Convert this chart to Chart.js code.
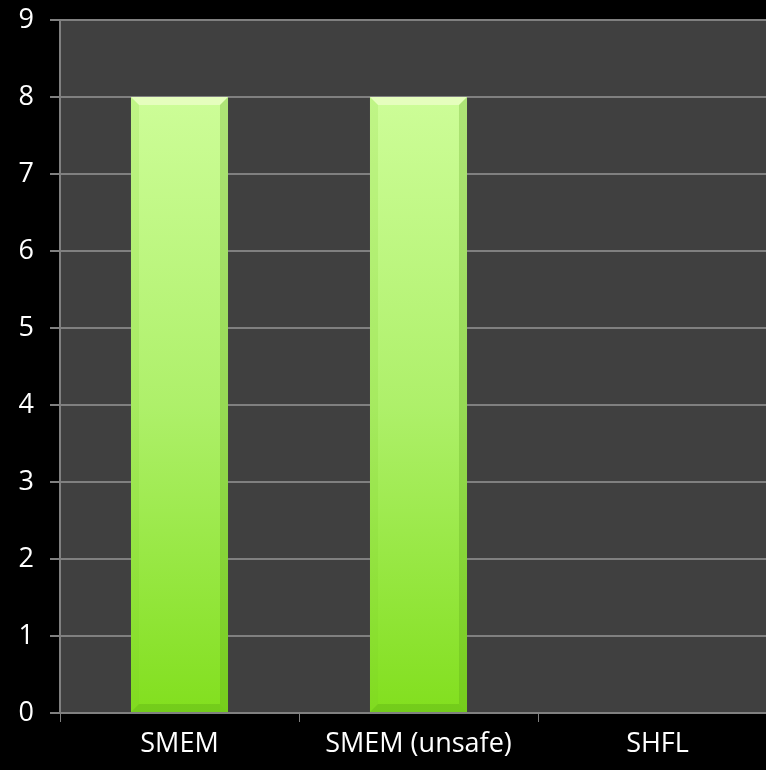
<!DOCTYPE html>
<html>
<head>
<meta charset="utf-8">
<script src="https://cdn.jsdelivr.net/npm/chart.js@4/dist/chart.umd.min.js"></script>
<style>
  html, body { margin: 0; padding: 0; background: #000; overflow: hidden; }
  .chart-container { position: relative; width: 780px; height: 770px; }
</style>
</head>
<body>
<div class="chart-container">
  <canvas id="smemChart"></canvas>
</div>
<script>
const categories = ['SMEM', 'SMEM (unsafe)', 'SHFL'];
const values = [8, 8, 0];
const yTicks = [0, 1, 2, 3, 4, 5, 6, 7, 8, 9];

// dark plot panel behind the bars
const plotPanel = {
  id: 'plotPanel',
  beforeDraw(chart) {
    const { ctx, chartArea: a } = chart;
    ctx.save();
    ctx.fillStyle = '#000';
    ctx.fillRect(0, 0, chart.width, chart.height);
    ctx.fillStyle = '#404040';
    ctx.fillRect(a.left, a.top, a.right - a.left, a.bottom - a.top);
    ctx.restore();
  }
};

// beveled edges on each bar
const barBevel = {
  id: 'barBevel',
  afterDatasetsDraw(chart) {
    const { ctx } = chart;
    chart.getDatasetMeta(0).data.forEach(bar => {
      const h = bar.base - bar.y;
      if (h <= 0) return;
      const l = bar.x - bar.width / 2, r = bar.x + bar.width / 2;
      const t = bar.y, b = bar.base, d = 8;
      ctx.save();
      // top face
      ctx.fillStyle = 'rgba(245,255,215,0.6)';
      ctx.beginPath();
      ctx.moveTo(l, t); ctx.lineTo(r, t); ctx.lineTo(r - d, t + d); ctx.lineTo(l + d, t + d);
      ctx.closePath(); ctx.fill();
      // left face
      ctx.fillStyle = 'rgba(120,200,40,0.15)';
      ctx.beginPath();
      ctx.moveTo(l, t); ctx.lineTo(l + d, t + d); ctx.lineTo(l + d, b - d); ctx.lineTo(l, b);
      ctx.closePath(); ctx.fill();
      // right face
      ctx.fillStyle = 'rgba(80,150,20,0.25)';
      ctx.beginPath();
      ctx.moveTo(r, t); ctx.lineTo(r - d, t + d); ctx.lineTo(r - d, b - d); ctx.lineTo(r, b);
      ctx.closePath(); ctx.fill();
      // bottom face
      ctx.fillStyle = 'rgba(90,170,20,0.35)';
      ctx.beginPath();
      ctx.moveTo(l, b); ctx.lineTo(r, b); ctx.lineTo(r - d, b - d); ctx.lineTo(l + d, b - d);
      ctx.closePath(); ctx.fill();
      ctx.restore();
    });
  }
};

function barGradient(context) {
  const chart = context.chart;
  if (!chart.chartArea) return '#a8ee60';
  const y = chart.scales.y;
  const g = chart.ctx.createLinearGradient(0, y.getPixelForValue(8), 0, y.getPixelForValue(0));
  g.addColorStop(0, '#cdfd98');
  g.addColorStop(0.5, '#aef06a');
  g.addColorStop(1, '#82df1e');
  return g;
}

const ctx = document.getElementById('smemChart').getContext('2d');
new Chart(ctx, {
  type: 'bar',
  data: {
    labels: categories,
    datasets: [{
      data: values,
      backgroundColor: barGradient,
      borderWidth: 0,
      categoryPercentage: 0.406,
      barPercentage: 1
    }]
  },
  options: {
    responsive: true,
    maintainAspectRatio: false,
    animation: false,
    layout: { padding: { top: 20, right: 3, left: 0, bottom: 0 } },
    plugins: {
      legend: { display: false },
      tooltip: { enabled: false }
    },
    scales: {
      x: {
        grid: {
          display: true,
          drawOnChartArea: false,
          drawTicks: true,
          tickLength: 9,
          color: '#808080',
          offset: true
        },
        border: { color: '#808080', width: 2 },
        ticks: {
          color: '#fff',
          font: { family: 'Open Sans', size: 27 },
          padding: 6
        },
        afterFit(scale) {
          scale.height = 57;
          scale.paddingLeft = 0;
          scale.paddingRight = 0;
        }
      },
      y: {
        min: 0,
        max: 9,
        afterBuildTicks(scale) { scale.ticks = yTicks.map(v => ({ value: v })); },
        grid: {
          color: '#808080',
          lineWidth: 2,
          tickLength: 10
        },
        border: { color: '#808080', width: 2 },
        ticks: {
          color: '#fff',
          font: { family: 'Open Sans', size: 27 },
          padding: 16
        },
        afterFit(scale) {
          scale.width = 60;
          scale.paddingTop = 0;
          scale.paddingBottom = 0;
        }
      }
    }
  },
  plugins: [plotPanel, barBevel]
});
</script>
</body>
</html>
